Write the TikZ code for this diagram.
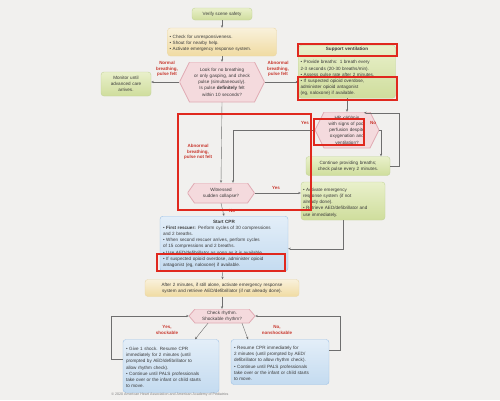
\documentclass[tikz,border=0pt]{standalone}
\usepackage{fontspec}
\setmainfont{Liberation Sans}
\usetikzlibrary{arrows.meta}

\definecolor{paper}{HTML}{F1F0EE}
\definecolor{ink}{HTML}{3A3A3A}
\definecolor{grtop}{HTML}{E9F0CB}
\definecolor{grbot}{HTML}{CFDD9C}
\definecolor{grline}{HTML}{C3D49A}
\definecolor{yetop}{HTML}{F9F1DB}
\definecolor{yebot}{HTML}{F0DBA2}
\definecolor{yeline}{HTML}{EAD7A8}
\definecolor{bltop}{HTML}{E3EEF8}
\definecolor{blbot}{HTML}{C4DBF0}
\definecolor{blline}{HTML}{9FC2E6}
\definecolor{pkfill}{HTML}{F4DADD}
\definecolor{pkline}{HTML}{E0AAB3}
\definecolor{lblred}{HTML}{C8372D}
\definecolor{hired}{HTML}{E0281E}
\definecolor{arrowgray}{HTML}{6E6E6E}

\newcommand{\itm}[1]{\par\hangindent=0.7em\hangafter=1\noindent\makebox[0.7em][l]{\textbullet}#1}

\tikzset{
	txt/.style={font=\fontsize{4.6}{6.2}\selectfont, text=ink},
	greenbox/.style={txt, rounded corners=3pt, draw=grline, top color=grtop, bottom color=grbot, align=center, inner sep=2pt},
	yellowbox/.style={txt, rounded corners=3pt, draw=yeline, top color=yetop, bottom color=yebot, align=center, inner sep=2pt},
	bluebox/.style={txt, rounded corners=3pt, draw=blline, top color=bltop, bottom color=blbot, align=left, inner sep=3pt},
	hexq/.style={txt, align=center, inner sep=1pt, path picture={
		\filldraw[fill=pkfill, draw=pkline, line width=0.8pt] (path picture bounding box.west)
			-- ([xshift=#1]path picture bounding box.north west) -- ([xshift=-#1]path picture bounding box.north east)
			-- (path picture bounding box.east)
			-- ([xshift=-#1]path picture bounding box.south east) -- ([xshift=#1]path picture bounding box.south west) -- cycle;}},
	lbl/.style={font=\bfseries\fontsize{4.5}{5.4}\selectfont, text=lblred, align=center},
	flow/.style={draw=arrowgray, line width=0.4pt, -{Stealth[length=2.6pt,width=2.2pt]}},
	hilite/.style={draw=hired, line width=1.1pt}
}

\begin{document}
\begin{tikzpicture}[x=1pt,y=-1pt]
	\useasboundingbox (0,0) rectangle (500,400);
	\fill[paper] (0,0) rectangle (500,400);

	\node[greenbox, minimum width=60, minimum height=12] (verify) at (222,14) {Verify scene safety};
	\node[yellowbox, align=left, text width=105, minimum height=28] (check) at (222,42) {\itm{Check for unresponsiveness.}\itm{Shout for nearby help.}\itm{Activate emergency response system.}};
	\node[hexq=10pt, text width=62, minimum width=85, minimum height=40] (look) at (222,82) {Look for no breathing\\ or only gasping, and check\\ pulse (simultaneously).\\ Is pulse \textbf{definitely} felt\\ within 10 seconds?};
	\node[greenbox, text width=46, minimum height=24] (monitor) at (126,84) {Monitor until\\ advanced care\\ arrives.};
	\node[greenbox, align=left, text width=93, minimum height=53, anchor=north] (support) at (347,45) {{\centering\textbf{Support ventilation}\par}\vspace{7pt}\itm{Provide breaths: 1 breath every\\ 2-3 seconds (20-30 breaths/min).}\itm{Assess pulse rate after 2 minutes.}\itm{If suspected opioid overdose,\\ administer opioid antagonist\\ (eg, naloxone) if available.}};
	\node[hexq=9pt, text width=46, minimum width=64, minimum height=36] (hr) at (347,130) {HR <60/min\\ with signs of poor\\ perfusion despite\\ oxygenation and\\ ventilation?};
	\node[greenbox, text width=80, minimum height=19] (cont) at (348,166) {Continue providing breaths;\\ check pulse every 2 minutes.};
	\node[hexq=7pt, text width=48, minimum width=67, minimum height=20] (witness) at (221,193) {Witnessed\\ sudden collapse?};
	\node[greenbox, align=left, text width=80, minimum height=38] (activate) at (343,201) {\itm{Activate emergency\\ response system (if not\\ already done).}\itm{Retrieve AED/defibrillator and\\ use immediately.}};
	\node[bluebox, text width=122, minimum height=55, anchor=north] (cpr) at (224,216) {{\centering\textbf{Start CPR}\par}\itm{\textbf{First rescuer:} Perform cycles of 30 compressions\\ and 2 breaths.}\itm{When second rescuer arrives, perform cycles\\ of 15 compressions and 2 breaths.}\itm{Use AED/defibrillator as soon as it is available.}\itm{If suspected opioid overdose, administer opioid\\ antagonist (eg, naloxone) if available.}};
	\node[yellowbox, text width=150, minimum height=17] (after) at (222,288) {After 2 minutes, if still alone, activate emergency response\\ system and retrieve AED/defibrillator (if not already done).};
	\node[hexq=6pt, text width=50, minimum width=66, minimum height=14] (rhythm) at (222,316) {Check rhythm.\\ Shockable rhythm?};
	\node[bluebox, text width=90, minimum height=53] (shock) at (171,366) {\itm{Give 1 shock. Resume CPR\\ immediately for 2 minutes (until\\ prompted by AED/defibrillator to\\ allow rhythm check).}\itm{Continue until PALS professionals\\ take over or the infant or child starts\\ to move.}};
	\node[bluebox, text width=92, minimum height=45] (noshock) at (280,362) {\itm{Resume CPR immediately for\\ 2 minutes (until prompted by AED/\\ defibrillator to allow rhythm check).}\itm{Continue until PALS professionals\\ take over or the infant or child starts\\ to move.}};
	\node[font=\fontsize{3.6}{4}\selectfont, text=gray] (credit) at (170,395) {\textcopyright\ 2020 American Heart Association and American Academy of Pediatrics};

	\node[lbl] (normal) at (167,69) {Normal\\ breathing,\\ pulse felt};
	\node[lbl] (abnfelt) at (278,69) {Abnormal\\ breathing,\\ pulse felt};
	\node[lbl] (abnnot) at (198,152) {Abnormal\\ breathing,\\ pulse not felt};
	\node[lbl] (hryes) at (305,123) {Yes};
	\node[lbl] (hrno) at (373,123) {No};
	\node[lbl] (wyes) at (276,188) {Yes};
	\node[lbl] (wno) at (232,211) {No};
	\node[lbl] (yshock) at (167,330) {Yes,\\ shockable};
	\node[lbl] (nshock) at (277,330) {No,\\ nonshockable};

	\draw[flow] (verify) -- (check);
	\draw[flow] (check) -- (look);
	\draw[flow] (look.west) -- (look.west -| monitor.east);
	\draw[flow] (look.east) -- (look.east -| support.west);
	\draw[flow] (look.south) -- (witness.north);
	\draw[flow] (support) -- (hr);
	\draw[flow] (hr.west) -| ([xshift=12pt]witness.north);
	\draw[flow] (hr.east) -| ([xshift=33pt]cont.north);
	\draw[flow] (cont.east) -- ++(9,0) |- ([xshift=17pt,yshift=-1pt]hr.north);
	\draw[flow] (witness.east) -- (witness.east -| activate.west);
	\draw[flow] (witness.south) -- (cpr.north);
	\draw[flow] (activate.south) |- ([yshift=-5pt]cpr.east);
	\draw[flow] (cpr) -- (after);
	\draw[flow] (after) -- (rhythm);
	\draw[flow] ([xshift=-14pt]rhythm.south) -- ([xshift=24pt]shock.north);
	\draw[flow] ([xshift=20pt]rhythm.south) -- ([xshift=-32pt]noshock.north);
	\draw[flow] ([yshift=7pt]shock.west) -- ++(-12,0) |- (rhythm.west);
	\draw[flow] ([yshift=12pt]noshock.east) -- ++(11,0) |- (rhythm.east);

	\draw[hilite] (298,44) rectangle (397,56);
	\draw[hilite] (298,77) rectangle (397,100);
	\draw[hilite] (178,114) rectangle (311,210);
	\draw[hilite] (314,119) rectangle (364,145);
	\draw[hilite] (157,254) rectangle (285,271);
\end{tikzpicture}
\end{document}
